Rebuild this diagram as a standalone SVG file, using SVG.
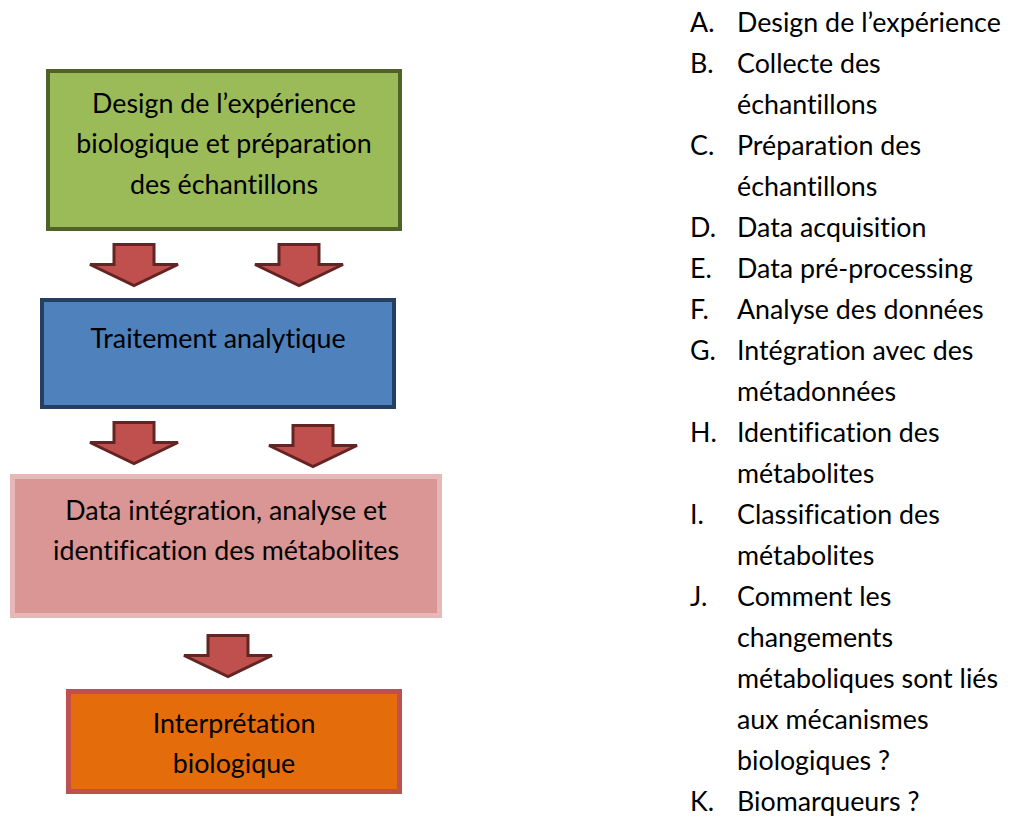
<svg xmlns="http://www.w3.org/2000/svg" width="1011" height="818" viewBox="0 0 1011 818">
<style>
.t{font-family:Lato,"Open Sans","Liberation Sans",sans-serif;font-size:26.8px;fill:#000;font-variant-ligatures:none;font-feature-settings:"liga" 0,"clig" 0,"dlig" 0}
.c{text-anchor:middle}
.arr{fill:#c0504d;stroke:#632523;stroke-width:3;stroke-linejoin:miter}
</style>
<defs>
<path id="arrow" d="M-20,0 H20 V20 H44 L0,41 L-44,20 H-20 Z"/>
</defs>
<rect width="1011" height="818" fill="#fff"/>
<g id="node-design">
<rect x="48" y="71" width="352" height="158" fill="#9bbb59" stroke="#4f6228" stroke-width="4"/>
<text class="t c" x="224" y="113">Design de l’expérience</text>
<text class="t c" x="224" y="153">biologique et préparation</text>
<text class="t c" x="224" y="194">des échantillons</text>
</g>
<g id="node-traitement">
<rect x="42" y="300" width="352" height="107" fill="#4f81bd" stroke="#243f60" stroke-width="4"/>
<text class="t c" x="218" y="348">Traitement analytique</text>
</g>
<g id="node-data">
<rect x="12.5" y="476.5" width="427" height="139" fill="#d99694" stroke="#e6b9b8" stroke-width="5"/>
<text class="t c" x="226" y="520">Data intégration, analyse et</text>
<text class="t c" x="226" y="560">identification des métabolites</text>
</g>
<g id="node-interpretation">
<rect x="68.5" y="691.5" width="331" height="100" fill="#e46c0a" stroke="#c0504d" stroke-width="5"/>
<text class="t c" x="234" y="733">Interprétation</text>
<text class="t c" x="234" y="773">biologique</text>
</g>
<g id="connectors">
<use href="#arrow" class="arr" x="134" y="244.5"/>
<use href="#arrow" class="arr" x="299" y="244.5"/>
<use href="#arrow" class="arr" x="134" y="422.5"/>
<use href="#arrow" class="arr" x="313" y="425.5"/>
<use href="#arrow" class="arr" x="228" y="635.5"/>
</g>
<g id="list">
<text class="t" x="690" y="32">A.</text><text class="t" x="737" y="32">Design de l’expérience</text>
<text class="t" x="690" y="73">B.</text><text class="t" x="737" y="73">Collecte des</text>
<text class="t" x="737" y="114">échantillons</text>
<text class="t" x="690" y="155">C.</text><text class="t" x="737" y="155">Préparation des</text>
<text class="t" x="737" y="196">échantillons</text>
<text class="t" x="690" y="237">D.</text><text class="t" x="737" y="237">Data acquisition</text>
<text class="t" x="690" y="278">E.</text><text class="t" x="737" y="278">Data pré-processing</text>
<text class="t" x="690" y="319">F.</text><text class="t" x="737" y="319">Analyse des données</text>
<text class="t" x="690" y="360">G.</text><text class="t" x="737" y="360">Intégration avec des</text>
<text class="t" x="737" y="401">métadonnées</text>
<text class="t" x="690" y="442">H.</text><text class="t" x="737" y="442">Identification des</text>
<text class="t" x="737" y="483">métabolites</text>
<text class="t" x="690" y="524">I.</text><text class="t" x="737" y="524">Classification des</text>
<text class="t" x="737" y="565">métabolites</text>
<text class="t" x="690" y="606">J.</text><text class="t" x="737" y="606">Comment les</text>
<text class="t" x="737" y="647">changements</text>
<text class="t" x="737" y="688">métaboliques sont liés</text>
<text class="t" x="737" y="729">aux mécanismes</text>
<text class="t" x="737" y="770">biologiques ?</text>
<text class="t" x="690" y="811">K.</text><text class="t" x="737" y="811">Biomarqueurs ?</text>
</g>
</svg>
